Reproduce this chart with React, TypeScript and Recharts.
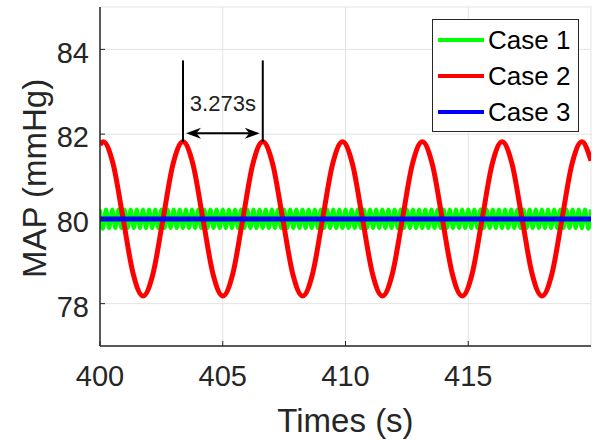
import {
  CartesianGrid,
  Legend,
  Line,
  LineChart,
  ReferenceLine,
  XAxis,
  YAxis,
} from 'recharts'

// Case 1: fast small ripple around 80 (peaks/troughs)
const case1Time = [
  400, 400.125, 400.25, 400.375, 400.5, 400.625, 400.75, 400.875,
  401, 401.125, 401.25, 401.375, 401.5, 401.625, 401.75, 401.875,
  402, 402.125, 402.25, 402.375, 402.5, 402.625, 402.75, 402.875,
  403, 403.125, 403.25, 403.375, 403.5, 403.625, 403.75, 403.875,
  404, 404.125, 404.25, 404.375, 404.5, 404.625, 404.75, 404.875,
  405, 405.125, 405.25, 405.375, 405.5, 405.625, 405.75, 405.875,
  406, 406.125, 406.25, 406.375, 406.5, 406.625, 406.75, 406.875,
  407, 407.125, 407.25, 407.375, 407.5, 407.625, 407.75, 407.875,
  408, 408.125, 408.25, 408.375, 408.5, 408.625, 408.75, 408.875,
  409, 409.125, 409.25, 409.375, 409.5, 409.625, 409.75, 409.875,
  410, 410.125, 410.25, 410.375, 410.5, 410.625, 410.75, 410.875,
  411, 411.125, 411.25, 411.375, 411.5, 411.625, 411.75, 411.875,
  412, 412.125, 412.25, 412.375, 412.5, 412.625, 412.75, 412.875,
  413, 413.125, 413.25, 413.375, 413.5, 413.625, 413.75, 413.875,
  414, 414.125, 414.25, 414.375, 414.5, 414.625, 414.75, 414.875,
  415, 415.125, 415.25, 415.375, 415.5, 415.625, 415.75, 415.875,
  416, 416.125, 416.25, 416.375, 416.5, 416.625, 416.75, 416.875,
  417, 417.125, 417.25, 417.375, 417.5, 417.625, 417.75, 417.875,
  418, 418.125, 418.25, 418.375, 418.5, 418.625, 418.75, 418.875,
  419, 419.125, 419.25, 419.375, 419.5, 419.625, 419.75, 419.875,
  420,
]
const case1Map = [
  80.22, 79.78, 80.22, 79.78, 80.22, 79.78, 80.22, 79.78,
  80.22, 79.78, 80.22, 79.78, 80.22, 79.78, 80.22, 79.78,
  80.22, 79.78, 80.22, 79.78, 80.22, 79.78, 80.22, 79.78,
  80.22, 79.78, 80.22, 79.78, 80.22, 79.78, 80.22, 79.78,
  80.22, 79.78, 80.22, 79.78, 80.22, 79.78, 80.22, 79.78,
  80.22, 79.78, 80.22, 79.78, 80.22, 79.78, 80.22, 79.78,
  80.22, 79.78, 80.22, 79.78, 80.22, 79.78, 80.22, 79.78,
  80.22, 79.78, 80.22, 79.78, 80.22, 79.78, 80.22, 79.78,
  80.22, 79.78, 80.22, 79.78, 80.22, 79.78, 80.22, 79.78,
  80.22, 79.78, 80.22, 79.78, 80.22, 79.78, 80.22, 79.78,
  80.22, 79.78, 80.22, 79.78, 80.22, 79.78, 80.22, 79.78,
  80.22, 79.78, 80.22, 79.78, 80.22, 79.78, 80.22, 79.78,
  80.22, 79.78, 80.22, 79.78, 80.22, 79.78, 80.22, 79.78,
  80.22, 79.78, 80.22, 79.78, 80.22, 79.78, 80.22, 79.78,
  80.22, 79.78, 80.22, 79.78, 80.22, 79.78, 80.22, 79.78,
  80.22, 79.78, 80.22, 79.78, 80.22, 79.78, 80.22, 79.78,
  80.22, 79.78, 80.22, 79.78, 80.22, 79.78, 80.22, 79.78,
  80.22, 79.78, 80.22, 79.78, 80.22, 79.78, 80.22, 79.78,
  80.22, 79.78, 80.22, 79.78, 80.22, 79.78, 80.22, 79.78,
  80.22, 79.78, 80.22, 79.78, 80.22, 79.78, 80.22, 79.78,
  80.22,
]

// Case 2: slow oscillation, read at eighth-period steps
const case2Time = [
  400,
  400.13, 400.536, 400.943, 401.349, 401.755, 402.161, 402.568, 402.974,
  403.38, 403.786, 404.193, 404.599, 405.005, 405.411, 405.818, 406.224,
  406.63, 407.036, 407.443, 407.849, 408.255, 408.661, 409.068, 409.474,
  409.88, 410.286, 410.693, 411.099, 411.505, 411.911, 412.318, 412.724,
  413.13, 413.536, 413.943, 414.349, 414.755, 415.161, 415.568, 415.974,
  416.38, 416.786, 417.193, 417.599, 418.005, 418.411, 418.818, 419.224,
  419.63, 420,
]
const case2Map = [
  81.75,
  81.82, 81.29, 80, 78.71, 78.18, 78.71, 80, 81.29,
  81.82, 81.29, 80, 78.71, 78.18, 78.71, 80, 81.29,
  81.82, 81.29, 80, 78.71, 78.18, 78.71, 80, 81.29,
  81.82, 81.29, 80, 78.71, 78.18, 78.71, 80, 81.29,
  81.82, 81.29, 80, 78.71, 78.18, 78.71, 80, 81.29,
  81.82, 81.29, 80, 78.71, 78.18, 78.71, 80, 81.29,
  81.82, 81.37,
]

// Case 3: flat
const case3Time = [400, 420]
const case3Map = [80, 80]

const seriesNames = ['Case 1', 'Case 2', 'Case 3']
const seriesColors = ['#00ff00', '#ff0000', '#0000ff']

const xTicks = [400, 405, 410, 415]
const yTicks = [78, 80, 82, 84]

// period annotation
const periodX = [403.38, 406.63]
const periodPeak = 81.82
const periodTop = 83.74
const periodArrowY = 82.02
const periodLabel = '3.273s'

const FONT = '"Liberation Sans", Arial, Helvetica, sans-serif'
const INK = '#262626'

const toRows = (t: number[], v: number[]) => t.map((x, i) => ({ t: x, v: v[i] }))

const case1Rows = toRows(case1Time, case1Map)
const case2Rows = toRows(case2Time, case2Map)
const case3Rows = toRows(case3Time, case3Map)

function ArrowShape(p: any) {
  const { x1, y1, x2 } = p
  const len = 15
  const half = 5.5
  const a = Math.min(x1, x2)
  const b = Math.max(x1, x2)
  const l = a + 3
  const r = b - 3
  return (
    <g>
      <line x1={l + 8} y1={y1} x2={r - 8} y2={y1} stroke="#000" strokeWidth={2} />
      <polygon
        points={`${l},${y1} ${l + len},${y1 - half} ${l + len * 0.7},${y1} ${l + len},${y1 + half}`}
        fill="#000"
      />
      <polygon
        points={`${r},${y1} ${r - len},${y1 - half} ${r - len * 0.7},${y1} ${r - len},${y1 + half}`}
        fill="#000"
      />
      <text
        x={(a + b) / 2}
        y={y1 - 30}
        textAnchor="middle"
        dominantBaseline="central"
        fontSize={22}
        fontFamily={FONT}
        fill="#222"
      >
        {periodLabel}
      </text>
    </g>
  )
}

function renderLegend(props: any) {
  const payload = (props?.payload ?? []) as { value: string; color: string }[]
  const items = payload.length
    ? payload
    : seriesNames.map((n, i) => ({ value: n, color: seriesColors[i] }))
  return (
    <div
      style={{
        width: 147,
        height: 113,
        boxSizing: 'border-box',
        border: `1px solid ${INK}`,
        background: '#fff',
        paddingTop: 2,
      }}
    >
      {items.map((it) => (
        <div
          key={it.value}
          style={{ display: 'flex', alignItems: 'center', height: 36 }}
        >
          <div
            style={{
              marginLeft: 5,
              width: 46,
              height: 4,
              background: it.color,
            }}
          />
          <span
            style={{
              marginLeft: 4,
              fontFamily: FONT,
              fontSize: 26,
              color: '#000',
              lineHeight: '36px',
            }}
          >
            {it.value}
          </span>
        </div>
      ))}
    </div>
  )
}

function XTitle(props: any) {
  const vb = props?.viewBox ?? { x: 100, y: 346, width: 491, height: 95 }
  return (
    <text
      x={vb.x + vb.width / 2}
      y={vb.y + 74}
      textAnchor="middle"
      dominantBaseline="central"
      fontSize={33}
      fontFamily={FONT}
      fill={INK}
    >
      Times (s)
    </text>
  )
}

function YTitle(props: any) {
  const vb = props?.viewBox ?? { x: 0, y: 7, width: 100, height: 339 }
  const cx = vb.x + 34
  const cy = vb.y + vb.height / 2 + 2
  return (
    <text
      x={cx}
      y={cy}
      transform={`rotate(-90 ${cx} ${cy})`}
      textAnchor="middle"
      dominantBaseline="central"
      fontSize={33}
      fontFamily={FONT}
      fill={INK}
    >
      MAP (mmHg)
    </text>
  )
}

export default function App() {
  return (
    <div style={{ position: 'absolute', left: 0, top: 0, background: '#fff' }}>
      <LineChart
        width={592}
        height={441}
        margin={{ top: 7, right: 1, bottom: 0, left: 0 }}
      >
        <CartesianGrid stroke="#e3e3e3" strokeWidth={1} />
        <XAxis
          dataKey="t"
          type="number"
          domain={[400, 420]}
          ticks={xTicks}
          allowDataOverflow
          height={95}
          tickSize={-5}
          tickMargin={24}
          axisLine={{ stroke: INK, strokeWidth: 1.5 }}
          tickLine={{ stroke: INK }}
          tick={{ fontSize: 29, fill: INK, fontFamily: FONT }}
          label={{ content: XTitle }}
        />
        <XAxis
          xAxisId="top"
          orientation="top"
          type="number"
          domain={[400, 420]}
          ticks={xTicks}
          height={0}
          tickSize={-5}
          tick={false}
          axisLine={{ stroke: INK, strokeWidth: 1.5 }}
          tickLine={{ stroke: INK }}
        />
        <YAxis
          type="number"
          domain={[77, 85]}
          ticks={yTicks}
          allowDataOverflow
          width={100}
          tickSize={-5}
          tickMargin={16}
          axisLine={{ stroke: INK, strokeWidth: 1.5 }}
          tickLine={{ stroke: INK }}
          tick={{ fontSize: 29, fill: INK, fontFamily: FONT, dy: 3 }}
          label={{ content: YTitle }}
        />
        <YAxis
          yAxisId="right"
          orientation="right"
          type="number"
          domain={[77, 85]}
          ticks={yTicks}
          width={0}
          tickSize={-5}
          tick={false}
          axisLine={{ stroke: INK, strokeWidth: 1.5 }}
          tickLine={{ stroke: INK }}
        />
        <Line
          data={case1Rows}
          dataKey="v"
          name={seriesNames[0]}
          type="natural"
          stroke={seriesColors[0]}
          strokeWidth={4}
          dot={false}
          isAnimationActive={false}
        />
        <Line
          data={case2Rows}
          dataKey="v"
          name={seriesNames[1]}
          type="monotone"
          stroke={seriesColors[1]}
          strokeWidth={5}
          dot={false}
          isAnimationActive={false}
        />
        <Line
          data={case3Rows}
          dataKey="v"
          name={seriesNames[2]}
          type="linear"
          stroke={seriesColors[2]}
          strokeWidth={5}
          dot={false}
          isAnimationActive={false}
        />
        {periodX.map((x) => (
          <ReferenceLine
            key={x}
            segment={[
              { x, y: periodPeak },
              { x, y: periodTop },
            ]}
            stroke="#000"
            strokeWidth={2}
          />
        ))}
        <ReferenceLine
          segment={[
            { x: periodX[0], y: periodArrowY },
            { x: periodX[1], y: periodArrowY },
          ]}
          shape={ArrowShape}
        />
        <Legend
          layout="vertical"
          align="center"
          verticalAlign="middle"
          content={renderLegend}
          wrapperStyle={{ left: 432, top: 19, width: 147, height: 113 }}
        />
      </LineChart>
    </div>
  )
}
